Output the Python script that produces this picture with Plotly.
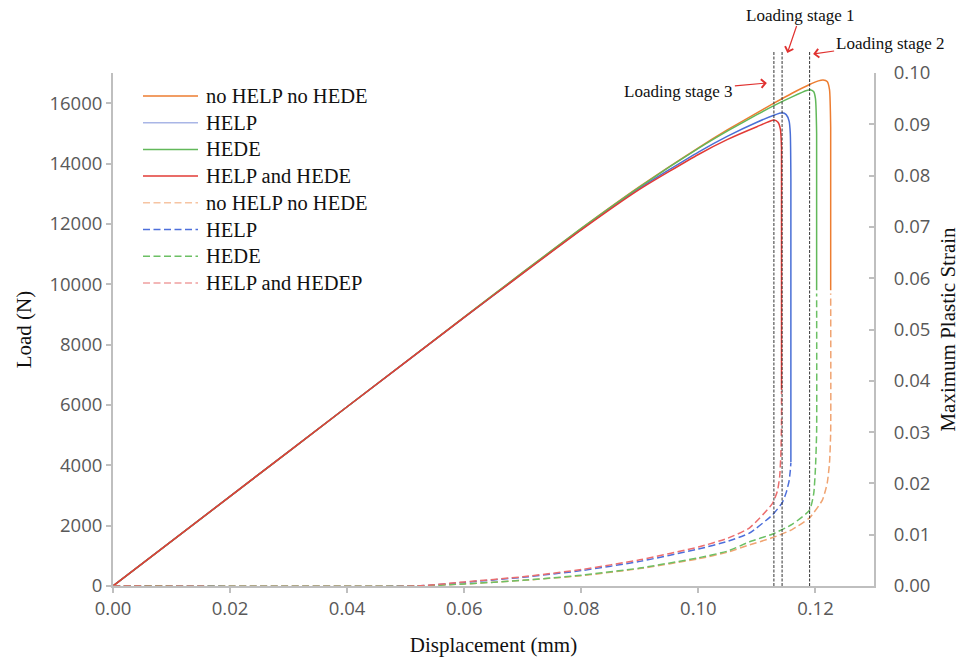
import plotly.graph_objects as go

# ---- Load vs displacement (left axis) ----
load_disp_none = [0, 0.02, 0.04, 0.06, 0.07, 0.08, 0.09, 0.10, 0.105, 0.11, 0.1129, 0.116, 0.119, 0.1205, 0.1213, 0.1220, 0.1224, 0.1226, 0.1226]
load_none = [0, 2970, 5940, 8910, 10390, 11850, 13240, 14520, 15120, 15680, 16000, 16330, 16620, 16740, 16770, 16720, 16450, 15200, 9800]

load_disp_help = [0, 0.02, 0.04, 0.06, 0.07, 0.08, 0.09, 0.10, 0.105, 0.11, 0.1129, 0.1143, 0.1150, 0.1155, 0.1157, 0.1158, 0.1158]
load_help = [0, 2970, 5940, 8900, 10370, 11820, 13190, 14380, 14910, 15370, 15600, 15680, 15620, 15400, 15000, 13500, 4100]

load_disp_hede = [0, 0.02, 0.04, 0.06, 0.07, 0.08, 0.09, 0.10, 0.105, 0.11, 0.1129, 0.116, 0.1185, 0.1192, 0.1197, 0.1200, 0.1202, 0.1202]
load_hede = [0, 2970, 5940, 8910, 10390, 11850, 13230, 14500, 15080, 15620, 15920, 16210, 16420, 16440, 16380, 16150, 15000, 9800]

load_disp_both = [0, 0.02, 0.04, 0.06, 0.07, 0.08, 0.09, 0.10, 0.105, 0.11, 0.1129, 0.1136, 0.1140, 0.1142, 0.1142]
load_both = [0, 2970, 5940, 8900, 10360, 11800, 13150, 14300, 14800, 15220, 15440, 15370, 15150, 14500, 6500]

# ---- Maximum plastic strain vs displacement (right axis) ----
strain_disp_none = [0, 0.052, 0.06, 0.07, 0.08, 0.09, 0.10, 0.105, 0.1087, 0.1126, 0.116, 0.119, 0.1212, 0.1220, 0.1224, 0.1226, 0.1226]
strain_none = [0, 0, 0.0004, 0.0011, 0.0020, 0.0034, 0.0053, 0.0066, 0.0080, 0.0094, 0.0110, 0.0133, 0.0168, 0.0200, 0.0240, 0.0300, 0.0570]

strain_disp_help = [0, 0.052, 0.06, 0.07, 0.08, 0.09, 0.10, 0.105, 0.1087, 0.1126, 0.1143, 0.1150, 0.1155, 0.1157, 0.1158]
strain_help = [0, 0, 0.0007, 0.0017, 0.0030, 0.0048, 0.0072, 0.0087, 0.0103, 0.0138, 0.0162, 0.0182, 0.0205, 0.0225, 0.0240]

strain_disp_hede = [0, 0.052, 0.06, 0.07, 0.08, 0.09, 0.10, 0.105, 0.1087, 0.1126, 0.116, 0.119, 0.1197, 0.1200, 0.1202, 0.1202]
strain_hede = [0, 0, 0.0004, 0.0011, 0.0021, 0.0035, 0.0055, 0.0068, 0.0086, 0.0101, 0.0120, 0.0148, 0.0180, 0.0230, 0.0300, 0.0570]

strain_disp_both = [0, 0.052, 0.06, 0.07, 0.08, 0.09, 0.10, 0.105, 0.1087, 0.1126, 0.1135, 0.1139, 0.1141, 0.1142, 0.1142]
strain_both = [0, 0, 0.0008, 0.0018, 0.0032, 0.0051, 0.0076, 0.0093, 0.0113, 0.0160, 0.0185, 0.0215, 0.0260, 0.0320, 0.0380]

# Loading stages marked by vertical lines
stage_disp = [0.1129, 0.1143, 0.1190]

SERIF = "Liberation Serif, Times New Roman, serif"
SANS = "Open Sans, sans-serif"
AXIS_GREY = "#BFBFBF"
TICK_TEXT = "#595959"
TEXT = "#111111"

fig = go.Figure()

solid = [
    ("no HELP no HEDE", load_disp_none, load_none, "#ED7D31"),
    ("HELP", load_disp_help, load_help, "#4A6FD6"),
    ("HEDE", load_disp_hede, load_hede, "#62B85A"),
    ("HELP and HEDE", load_disp_both, load_both, "#E23B36"),
]
dashed = [
    ("no HELP no HEDE", strain_disp_none, strain_none, "#F0A472"),
    ("HELP", strain_disp_help, strain_help, "#4D6FDB"),
    ("HEDE", strain_disp_hede, strain_hede, "#6CC064"),
    ("HELP and HEDEP", strain_disp_both, strain_both, "#EC6E6E"),
]
legend_colors_solid = ["#ED7D31", "#A9B6E6", "#62B85A", "#E23B36"]
legend_colors_dash = ["#F6C4A2", "#4D6FDB", "#6CC064", "#F0A0A0"]

for name, xs, ys, col in solid:
    fig.add_trace(go.Scatter(x=xs, y=ys, name=name, mode="lines", showlegend=False,
                             line=dict(color=col, width=1.5, shape="spline", smoothing=0.5)))

DASH = "7px,3.5px"
for name, xs, ys, col in dashed:
    fig.add_trace(go.Scatter(x=xs, y=ys, name=name, mode="lines", yaxis="y2", showlegend=False,
                             line=dict(color=col, width=1.5, dash=DASH,
                                       shape="spline", smoothing=0.5)))

# Legend block drawn in paper coordinates (line sample + label)
PLOT_L, PLOT_W, PLOT_B, PLOT_H = 113, 761, 586, 513
def px_x(p):
    return (p - PLOT_L) / PLOT_W
def px_y(p):
    return (PLOT_B - p) / PLOT_H

entries = [(n, c, "solid") for (n, *_), c in zip(solid, legend_colors_solid)] + \
          [(n, c, DASH) for (n, *_), c in zip(dashed, legend_colors_dash)]
for i, (name, col, dash) in enumerate(entries):
    yc = 96 + 26.7 * i
    fig.add_shape(type="line", xref="paper", yref="paper",
                  x0=px_x(143), x1=px_x(198), y0=px_y(yc), y1=px_y(yc),
                  line=dict(color=col, width=1.5, dash=dash))
    fig.add_annotation(xref="paper", yref="paper", x=px_x(204), y=px_y(yc),
                       xanchor="left", yanchor="middle", showarrow=False, text=name,
                       font=dict(family=SERIF, size=20.5, color=TEXT))

for d in stage_disp:
    fig.add_shape(type="line", xref="x", yref="paper", x0=d, x1=d, y0=0, y1=px_y(52),
                  line=dict(color="#333333", width=1, dash="3px,1.5px"))

# stage labels with red arrows (tip in data/paper coords, text offset in pixels)
arrows = [
    ("Loading stage 1", 0.1152, px_y(53), 13, -38),
    ("Loading stage 2", 0.1196, px_y(54), 77, -11),
    ("Loading stage 3", 0.1117, px_y(83), -88, 8),
]
for txt, x, y, ax, ay in arrows:
    fig.add_annotation(x=x, y=y, xref="x", yref="paper", ax=ax, ay=ay,
                       axref="pixel", ayref="pixel", text=txt, showarrow=True,
                       arrowhead=4, arrowsize=1.4, arrowwidth=1.2, arrowcolor="#E0312F",
                       font=dict(family=SERIF, size=17, color=TEXT))

fig.update_layout(
    width=960, height=658,
    margin=dict(l=113, r=86, t=73, b=72),
    paper_bgcolor="white", plot_bgcolor="white",
    showlegend=False,
    xaxis=dict(range=[0, 0.13], tickvals=[0, 0.02, 0.04, 0.06, 0.08, 0.10, 0.12],
               tickformat=".2f", showgrid=False, zeroline=False, automargin=False,
               showline=True, linecolor=AXIS_GREY, linewidth=2,
               ticks="outside", ticklen=5, tickcolor=AXIS_GREY, tickwidth=1.5,
               tickfont=dict(family=SANS, size=18.5, color=TICK_TEXT),
               title=dict(text="Displacement (mm)", standoff=18,
                          font=dict(family=SERIF, size=21, color=TEXT))),
    yaxis=dict(range=[0, 17000], tickvals=list(range(0, 16001, 2000)), tickformat="d",
               showgrid=False, zeroline=False, automargin=False,
               showline=True, linecolor=AXIS_GREY, linewidth=2,
               ticks="outside", ticklen=5, tickcolor=AXIS_GREY, tickwidth=1.5,
               tickfont=dict(family=SANS, size=18.5, color=TICK_TEXT),
               title=dict(text="Load (N)", standoff=12,
                          font=dict(family=SERIF, size=21, color=TEXT))),
    yaxis2=dict(range=[0, 0.10], tickvals=[i / 100 for i in range(11)], tickformat=".2f",
                overlaying="y", side="right", showgrid=False, zeroline=False, automargin=False,
                showline=True, linecolor=AXIS_GREY, linewidth=2,
                ticks="inside", ticklen=5, tickcolor=AXIS_GREY, tickwidth=1.5,
                ticklabelstandoff=14,
                tickfont=dict(family=SANS, size=18.5, color=TICK_TEXT),
                title=dict(text="Maximum Plastic Strain", standoff=13,
                           font=dict(family=SERIF, size=21, color=TEXT))),
)

fig.write_html("out.html")
